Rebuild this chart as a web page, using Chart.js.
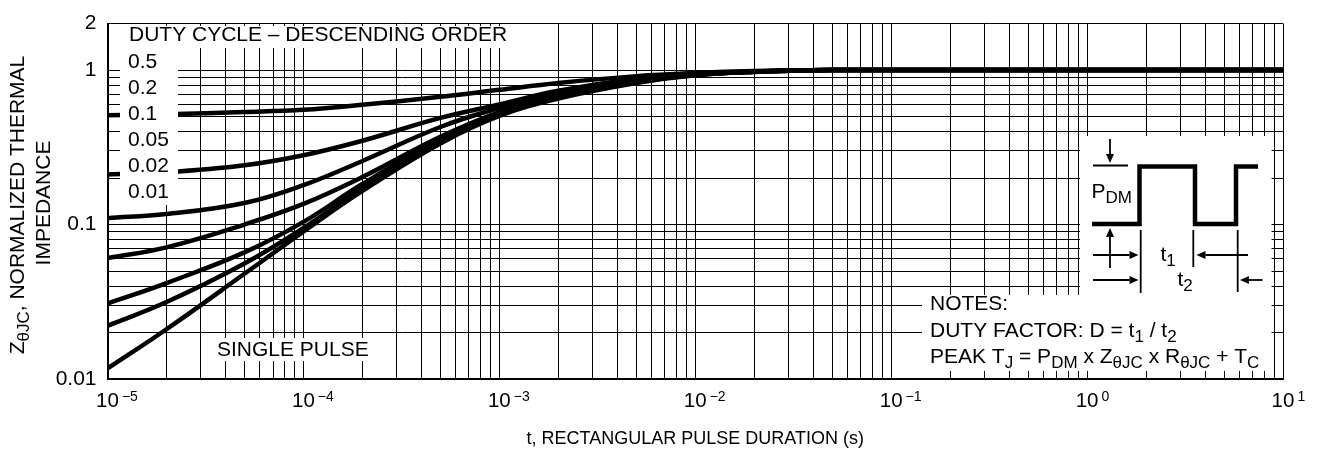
<!DOCTYPE html>
<html>
<head>
<meta charset="utf-8">
<script src="https://cdn.jsdelivr.net/npm/chart.js@4/dist/chart.umd.min.js"></script>
<style>
  html, body { margin: 0; padding: 0; background: #fff; }
  #wrap { width: 1320px; height: 454px; }
</style>
</head>
<body>
<div id="wrap"><canvas id="zthChart" width="1320" height="454"></canvas></div>
<script>
const FONT = "'Liberation Sans', Arial, Helvetica, sans-serif";

// pulse duration (s) where the curves were read
const pulseTimes = [1e-5, 2e-5, 5e-5, 1e-4, 2e-4, 5e-4, 1e-3, 2e-3, 5e-3, 1e-2, 2e-2, 5e-2, 1e-1, 1, 10];

// normalized thermal impedance, one array per duty cycle
const zD050 = [0.51, 0.518, 0.535, 0.553, 0.596, 0.671, 0.745, 0.825, 0.914, 0.958, 0.985, 1.0, 1.0, 1.0, 1.0];
const zD020 = [0.211, 0.218, 0.242, 0.281, 0.349, 0.49, 0.60, 0.735, 0.88, 0.945, 0.98, 1.0, 1.0, 1.0, 1.0];
const zD010 = [0.11, 0.117, 0.138, 0.18, 0.258, 0.428, 0.57, 0.715, 0.865, 0.94, 0.978, 1.0, 1.0, 1.0, 1.0];
const zD005 = [0.0606, 0.0712, 0.1, 0.136, 0.203, 0.37, 0.535, 0.69, 0.85, 0.935, 0.976, 1.0, 1.0, 1.0, 1.0];
const zD002 = [0.0308, 0.0418, 0.066, 0.104, 0.183, 0.355, 0.525, 0.675, 0.84, 0.93, 0.975, 1.0, 1.0, 1.0, 1.0];
const zD001 = [0.0221, 0.0315, 0.056, 0.095, 0.172, 0.345, 0.515, 0.665, 0.835, 0.928, 0.974, 1.0, 1.0, 1.0, 1.0];
const zSingle = [0.0117, 0.021, 0.048, 0.09, 0.165, 0.335, 0.505, 0.655, 0.825, 0.925, 0.972, 1.0, 1.0, 1.0, 1.0];

const dutyLabels = ['0.5', '0.2', '0.1', '0.05', '0.02', '0.01'];

// axes
const xDecades = [1e-5, 1e-4, 1e-3, 1e-2, 1e-1, 1, 10];
const xDecadeExps = ['\u22125', '\u22124', '\u22123', '\u22122', '\u22121', '0', '1'];
const gridSteps = [1, 2, 3, 4, 5, 6, 7, 8, 9];
const yDecades = [0.01, 0.1];
const yTickLabels = ['0.01', '0.1', '1', '2'];

const xGrid = [];
xDecades.slice(0, -1).forEach(d => gridSteps.forEach(s => xGrid.push(+(d * s).toPrecision(3))));
xGrid.push(10);
const yGrid = [];
yDecades.forEach(d => gridSteps.forEach(s => yGrid.push(+(d * s).toPrecision(3))));
yGrid.push(1, 2);

const TXT = 21;   // annotation font size
const SUB = 17;   // subscript size

function series(values) {
    return pulseTimes.map((t, i) => ({ x: t, y: values[i] }));
}

// text with sub / superscripts: parts = [[text, 'sub'|'sup'|undefined], ...]
function richWidth(ctx, parts, size, small) {
    let w = 0;
    parts.forEach(p => {
        ctx.font = (p[1] ? small : size) + 'px ' + FONT;
        w += ctx.measureText(p[0]).width;
    });
    return w;
}
function drawRich(ctx, x, y, parts, size, small, align) {
    let cx = x;
    if (align === 'center') cx = x - richWidth(ctx, parts, size, small) / 2;
    ctx.textAlign = 'left';
    ctx.textBaseline = 'middle';
    parts.forEach(p => {
        ctx.font = (p[1] ? small : size) + 'px ' + FONT;
        let dy = 0;
        if (p[1] === 'sub') dy = size * 0.28;
        if (p[1] === 'sup') dy = -size * 0.22;
        ctx.fillText(p[0], cx, y + dy);
        cx += ctx.measureText(p[0]).width;
    });
}

function arrow(ctx, x1, y1, x2, y2) {
    const len = 9, half = 4;
    const a = Math.atan2(y2 - y1, x2 - x1);
    const bx = x2 - len * Math.cos(a), by = y2 - len * Math.sin(a);
    ctx.beginPath();
    ctx.moveTo(x1, y1);
    ctx.lineTo(bx, by);
    ctx.stroke();
    ctx.beginPath();
    ctx.moveTo(x2, y2);
    ctx.lineTo(bx + half * Math.sin(a), by - half * Math.cos(a));
    ctx.lineTo(bx - half * Math.sin(a), by + half * Math.cos(a));
    ctx.closePath();
    ctx.fill();
}
function line(ctx, pts) {
    ctx.beginPath();
    ctx.moveTo(pts[0][0], pts[0][1]);
    pts.slice(1).forEach(p => ctx.lineTo(p[0], p[1]));
    ctx.stroke();
}

const annotations = {
    id: 'annotations',
    afterDatasetsDraw(chart) {
        const ctx = chart.ctx;
        ctx.save();
        // white label backgrounds
        ctx.fillStyle = '#fff';
        ctx.fillRect(120, 26, 397, 22);
        ctx.fillRect(120, 48, 58, 157);
        ctx.fillRect(214, 338, 159, 23);
        ctx.fillRect(1080, 136, 191.5, 160);
        ctx.fillRect(922, 295, 349.5, 76);

        ctx.fillStyle = '#000';
        drawRich(ctx, 129, 35.5, [['DUTY CYCLE \u2013 DESCENDING ORDER']], TXT, SUB);
        dutyLabels.forEach((l, i) => drawRich(ctx, 128, 62 + i * 26, [[l]], TXT, SUB));
        drawRich(ctx, 217, 350, [['SINGLE PULSE']], TXT, SUB);

        drawRich(ctx, 930, 304, [['NOTES:']], TXT, SUB);
        drawRich(ctx, 930, 331.5, [['DUTY FACTOR: D = t'], ['1', 'sub'], [' / t'], ['2', 'sub']], TXT, SUB);
        drawRich(ctx, 930, 357, [['PEAK T'], ['J', 'sub'], [' = P'], ['DM', 'sub'], [' x Z'], ['\u03b8JC', 'sub'],
            [' x R'], ['\u03b8JC', 'sub'], [' + T'], ['C', 'sub']], TXT, SUB);

        // pulse sketch
        ctx.strokeStyle = '#000';
        ctx.lineWidth = 4.5;
        ctx.lineJoin = 'miter';
        line(ctx, [[1092, 224], [1139.5, 224], [1139.5, 166.5], [1195, 166.5], [1195, 224],
            [1236, 224], [1236, 166.5], [1258, 166.5]]);
        ctx.lineWidth = 1.8;
        line(ctx, [[1093, 165.5], [1128, 165.5]]);
        line(ctx, [[1140.7, 230], [1140.7, 293]]);
        line(ctx, [[1193.3, 230], [1193.3, 267]]);
        line(ctx, [[1237.7, 230], [1237.7, 292]]);
        arrow(ctx, 1110, 139, 1110, 163);
        arrow(ctx, 1110, 268, 1110, 228);
        arrow(ctx, 1093, 255, 1138.5, 255);
        arrow(ctx, 1248, 255, 1196.5, 255);
        arrow(ctx, 1093, 280, 1138.5, 280);
        arrow(ctx, 1262.5, 280, 1240, 280);
        drawRich(ctx, 1091.5, 192.5, [['P'], ['DM', 'sub']], TXT, SUB);
        drawRich(ctx, 1160.5, 255, [['t'], ['1', 'sub']], TXT, SUB);
        drawRich(ctx, 1177.5, 280.5, [['t'], ['2', 'sub']], TXT, SUB);
        ctx.restore();
    },
    afterDraw(chart) {
        const ctx = chart.ctx;
        const xs = chart.scales.x;
        ctx.save();
        ctx.fillStyle = '#000';
        // x decade labels: "10" centred on the tick, exponent raised after it
        xDecades.forEach((d, i) => {
            const px = xs.getPixelForValue(d);
            ctx.font = '20.5px ' + FONT;
            ctx.textAlign = 'center';
            ctx.textBaseline = 'middle';
            ctx.fillText('10', px, 401.5);
            const w = ctx.measureText('10').width;
            ctx.font = '14px ' + FONT;
            ctx.textAlign = 'left';
            ctx.fillText(xDecadeExps[i], px + w / 2 + 3, 397.5);
        });
        // y axis title, two rotated lines
        ctx.translate(18, 205);
        ctx.rotate(-Math.PI / 2);
        drawRich(ctx, 0, 0, [['Z'], ['\u03b8JC', 'sub'], [', NORMALIZED THERMAL']], TXT, SUB, 'center');
        ctx.restore();
        ctx.save();
        ctx.fillStyle = '#000';
        ctx.translate(44, 203);
        ctx.rotate(-Math.PI / 2);
        drawRich(ctx, 0, 0, [['IMPEDANCE']], TXT, SUB, 'center');
        ctx.restore();
    }
};

const curveStyle = {
    borderColor: '#000',
    borderWidth: 4.5,
    pointRadius: 0,
    fill: false,
    tension: 0.4
};

new Chart(document.getElementById('zthChart'), {
    type: 'line',
    data: {
        datasets: [
            { label: 'D = 0.5', data: series(zD050), ...curveStyle },
            { label: 'D = 0.2', data: series(zD020), ...curveStyle },
            { label: 'D = 0.1', data: series(zD010), ...curveStyle },
            { label: 'D = 0.05', data: series(zD005), ...curveStyle },
            { label: 'D = 0.02', data: series(zD002), ...curveStyle },
            { label: 'D = 0.01', data: series(zD001), ...curveStyle },
            { label: 'Single pulse', data: series(zSingle), ...curveStyle }
        ]
    },
    options: {
        responsive: false,
        animation: false,
        events: [],
        layout: { padding: { left: 0, top: 19.5, right: 37, bottom: 0 } },
        plugins: {
            legend: { display: false },
            tooltip: { enabled: false }
        },
        scales: {
            x: {
                type: 'logarithmic',
                min: 1e-5,
                max: 10,
                afterBuildTicks: s => { s.ticks = xGrid.map(v => ({ value: v })); },
                afterFit: s => { s.height = 75; },
                ticks: { autoSkip: false, maxRotation: 0, callback: () => '' },
                grid: { color: '#000', lineWidth: 1, drawTicks: false },
                border: { display: true, color: '#000', width: 2 },
                title: {
                    display: true,
                    text: 't, RECTANGULAR PULSE DURATION (s)',
                    color: '#000',
                    font: { family: FONT, size: 18 },
                    padding: { top: 4, bottom: 4 }
                }
            },
            y: {
                type: 'logarithmic',
                min: 0.01,
                max: 2,
                afterBuildTicks: s => { s.ticks = yGrid.map(v => ({ value: v })); },
                afterFit: s => { s.width = 107.5; },
                ticks: {
                    autoSkip: false,
                    color: '#000',
                    padding: 11,
                    font: { family: FONT, size: 21 },
                    callback: v => yTickLabels.includes(String(v)) ? String(v) : ''
                },
                grid: { color: '#000', lineWidth: 1, drawTicks: false },
                border: { display: true, color: '#000', width: 2 }
            }
        }
    },
    plugins: [annotations]
});
</script>
</body>
</html>
